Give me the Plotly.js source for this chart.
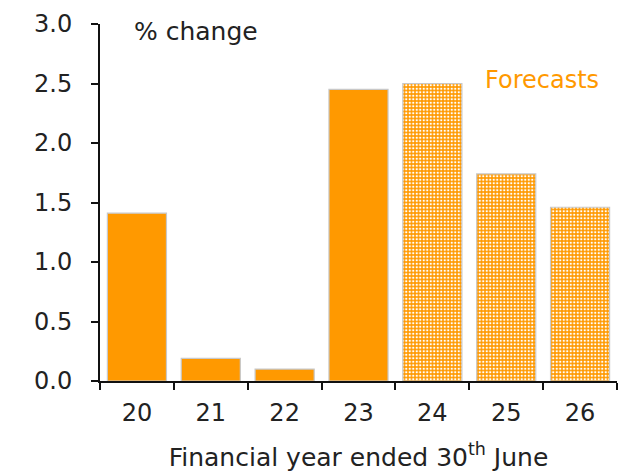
<!DOCTYPE html>
<html><head><meta charset="utf-8">
<script src="https://cdn.plot.ly/plotly-3.0.1.min.js"></script>
<style>html,body{margin:0;padding:0;background:#fff}</style>
</head><body><div id="chart" style="width:625px;height:472px"></div>
<script>
const categories = ["20","21","22","23","24","25","26"];
const actualYears = ["20","21","22","23"];
const actualValues = [1.41, 0.19, 0.10, 2.45];
const forecastYears = ["24","25","26"];
const forecastValues = [2.50, 1.74, 1.46];
const yTicks = [0, 0.5, 1.0, 1.5, 2.0, 2.5, 3.0];
const yTickLabels = ["0.0","0.5","1.0","1.5","2.0","2.5","3.0"];

const orange = "#FF9900";
const font = "'DejaVu Sans', sans-serif";
const txt = "#222";

const traces = [
  {type:"bar", x:actualYears, y:actualValues,
   marker:{color:orange, line:{color:"#c8c8c8", width:1.2}}, hoverinfo:"none"},
  {type:"bar", x:forecastYears, y:forecastValues,
   marker:{color:orange, line:{color:"#c8c8c8", width:1.2},
     pattern:{shape:".", bgcolor:orange, fgcolor:"#ffffff", size:3.5, solidity:0.35, fillmode:"replace"}},
   hoverinfo:"none"}
];

const layout = {
  width:625, height:472,
  margin:{l:100, r:8, t:24, b:91},
  paper_bgcolor:"#fff", plot_bgcolor:"#fff",
  showlegend:false, barmode:"overlay", bargap:0.2,
  font:{family:font, color:txt, size:24},
  xaxis:{type:"category", categoryorder:"array", categoryarray:categories,
    showline:true, linecolor:"#111", linewidth:2, showgrid:false, zeroline:false,
    ticks:"outside", tickson:"boundaries", ticklen:7, tickwidth:2, tickcolor:"#111",
    tickfont:{size:24, family:font, color:txt}, ticklabelstandoff:9,
    title:{text:"Financial year ended 30<sup>th</sup> June", font:{size:25, family:font, color:txt}, standoff:24}},
  yaxis:{range:[0,3], tickvals:yTicks, ticktext:yTickLabels,
    showline:true, linecolor:"#111", linewidth:2, showgrid:false, zeroline:false,
    ticks:"outside", ticklen:7, tickwidth:2, tickcolor:"#111", ticklabelstandoff:14,
    tickfont:{size:24, family:font, color:txt}},
  annotations:[
    {text:"% change", xref:"paper", yref:"paper", x:0.062, y:0.978, xanchor:"left", yanchor:"middle",
     showarrow:false, font:{size:25, family:font, color:txt}},
    {text:"Forecasts", xref:"paper", yref:"paper", x:0.97, y:0.844, xanchor:"right", yanchor:"middle",
     showarrow:false, font:{size:24, family:font, color:orange}}
  ]
};
Plotly.newPlot("chart", traces, layout, {displayModeBar:false, staticPlot:true});
</script></body></html>
